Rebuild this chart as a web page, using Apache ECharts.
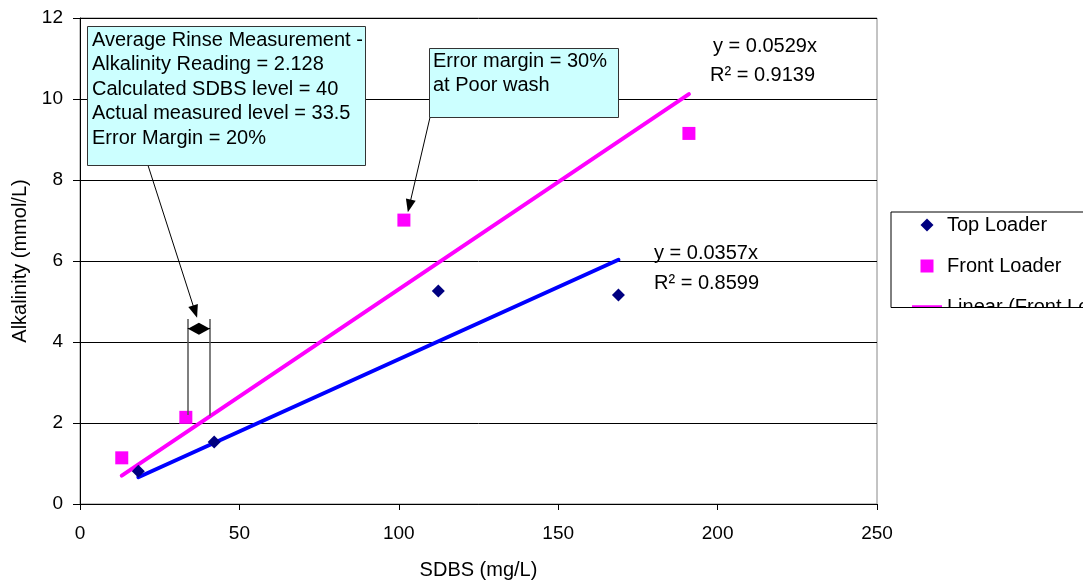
<!DOCTYPE html>
<html>
<head>
<meta charset="utf-8">
<script src="https://cdn.jsdelivr.net/npm/echarts@6/dist/echarts.min.js"></script>
<style>
html,body{margin:0;padding:0;background:#fff}
#chart{width:1083px;height:585px}
</style>
</head>
<body>
<div id="chart"></div>
<script>
var FONT = "'Liberation Sans', Arial, sans-serif";

// measured points
var topLoaderX = [18.3, 42.1, 112.4, 168.9];
var topLoaderY = [0.81, 1.53, 5.26, 5.16];
var frontLoaderX = [13.1, 33.2, 101.6, 191.0];
var frontLoaderY = [1.14, 2.14, 7.01, 9.15];

// trendline end points (y = 0.0357x and y = 0.0529x)
var topTrend = [[18.3, 0.66], [168.9, 6.03]];
var frontTrend = [[13.1, 0.70], [191.0, 10.12]];

// error bar between calculated (40) and measured (33.5) level
var errorBarX = [33.8, 40.8];
var errorBarTop = 4.57;
var errorBarBottom = [2.20, 2.18];
var errorArrowY = 4.33;

var legendNames = ['Top Loader', 'Front Loader', 'Linear (Front Loader)'];
var legendIcons = [
    'path://M5,0L10,5L5,10L0,5Z',
    'path://M0,0H10V10H0Z',
    'path://M0,0H30V3.5H0Z'
];
var box1Lines = ['Average Rinse Measurement -', 'Alkalinity Reading = 2.128', 'Calculated SDBS level = 40', 'Actual measured level = 33.5', 'Error Margin = 20%'];
var box2Lines = ['Error margin = 30%', 'at Poor wash'];

function pairs(xs, ys) {
    var out = [];
    for (var i = 0; i < xs.length; i++) out.push([xs[i], ys[i]]);
    return out;
}

var legendData = [];
for (var i = 0; i < legendNames.length; i++) {
    legendData.push({ name: legendNames[i], icon: legendIcons[i] });
}

var myChart = echarts.init(document.getElementById('chart'));

var option = {
    animation: false,
    textStyle: { fontFamily: FONT },
    grid: {
        left: 80, right: 206, top: 18, bottom: 81,
        show: true, borderColor: '#888', borderWidth: 1
    },
    legend: {
        orient: 'vertical',
        left: 891, top: 212,
        padding: [1, 10, 10, 21],
        itemWidth: 30, itemHeight: 13, itemGap: 17,
        symbolKeepAspect: true,
        borderColor: '#000', borderWidth: 1,
        textStyle: { fontSize: 20, color: '#000', fontFamily: FONT, lineHeight: 24 },
        data: legendData
    },
    xAxis: {
        type: 'value', min: 0, max: 250, interval: 50,
        name: 'SDBS (mg/L)', nameLocation: 'middle', nameGap: 56,
        nameTextStyle: { fontSize: 20, color: '#000', fontFamily: FONT },
        axisLine: { show: true, lineStyle: { color: '#000', width: 1 } },
        axisTick: { show: true, length: 6, lineStyle: { color: '#000' } },
        axisLabel: { fontSize: 19, color: '#000', margin: 20, fontFamily: FONT },
        splitLine: { show: false }
    },
    yAxis: {
        type: 'value', min: 0, max: 12, interval: 2,
        name: 'Alkalinity (mmol/L)', nameLocation: 'middle', nameGap: 48,
        nameTextStyle: { fontSize: 20, color: '#000', fontFamily: FONT },
        axisLine: { show: true, lineStyle: { color: '#000', width: 1 } },
        axisTick: { show: true, length: 7, lineStyle: { color: '#000' } },
        axisLabel: { fontSize: 19, color: '#000', margin: 17, fontFamily: FONT },
        splitLine: { show: true, lineStyle: { color: '#000', width: 1 } }
    },
    series: [
        {
            name: 'Linear (Top Loader)', type: 'line',
            data: topTrend, showSymbol: false, symbol: 'none', silent: true, z: 2,
            lineStyle: { color: '#0000ff', width: 4, cap: 'round' },
            itemStyle: { color: '#0000ff' }
        },
        {
            name: 'Linear (Front Loader)', type: 'line',
            data: frontTrend, showSymbol: false, symbol: 'none', silent: true, z: 2,
            lineStyle: { color: '#ff00ff', width: 4, cap: 'round' },
            itemStyle: { color: '#ff00ff' }
        },
        {
            name: 'Top Loader', type: 'scatter', symbol: 'diamond', symbolSize: 13, z: 3,
            itemStyle: { color: '#000080', opacity: 1 },
            data: pairs(topLoaderX, topLoaderY),
            markLine: {
                silent: true, animation: false,
                label: { show: false },
                symbol: 'none',
                lineStyle: { color: '#000', width: 1, type: 'solid' },
                data: [
                    [{ coord: [errorBarX[0], errorBarTop], lineStyle: { color: '#555', width: 1.5 } },
                     { coord: [errorBarX[0], errorBarBottom[0]] }],
                    [{ coord: [errorBarX[1], errorBarTop], lineStyle: { color: '#555', width: 1.5 } },
                     { coord: [errorBarX[1], errorBarBottom[1]] }],
                    [{ coord: [errorBarX[0], errorArrowY] }, { coord: [errorBarX[1], errorArrowY] }],
                    [{ coord: [21.3, 8.37] },
                     { coord: [36.1, 4.75], symbol: 'triangle', symbolSize: [10, 13] }],
                    [{ coord: [109.8, 9.55] },
                     { coord: [103.3, 7.36], symbol: 'triangle', symbolSize: [10, 13] }]
                ]
            },
            markPoint: {
                silent: true, animation: false,
                label: { show: false },
                data: [{ coord: [37.3, errorArrowY], symbol: 'diamond', symbolSize: [22, 12], itemStyle: { color: '#000' } }]
            }
        },
        {
            name: 'Front Loader', type: 'scatter', symbol: 'rect', symbolSize: 13, z: 3,
            itemStyle: { color: '#ff00ff', opacity: 1 },
            data: pairs(frontLoaderX, frontLoaderY)
        }
    ],
    graphic: [
        { type: 'rect', z: 50, shape: { x: 87.5, y: 26.5, width: 278, height: 139 },
          style: { fill: '#ccffff', stroke: '#333', lineWidth: 1 } },
        { type: 'text', z: 51, x: 92, y: 27.7,
          style: { text: box1Lines.join('\n'), font: '20px ' + FONT, fill: '#000', lineHeight: 24.6, verticalAlign: 'top' } },
        { type: 'rect', z: 50, shape: { x: 429.5, y: 48.5, width: 189, height: 69 },
          style: { fill: '#ccffff', stroke: '#333', lineWidth: 1 } },
        { type: 'text', z: 51, x: 433, y: 49.7,
          style: { text: box2Lines.join('\n'), font: '20px ' + FONT, fill: '#000', lineHeight: 24, verticalAlign: 'top' } },
        { type: 'text', z: 51, x: 713, y: 46.7,
          style: { text: 'y = 0.0529x', font: '20px ' + FONT, fill: '#000', verticalAlign: 'middle' } },
        { type: 'text', z: 51, x: 710, y: 75,
          style: { text: 'R\u00b2 = 0.9139', font: '20px ' + FONT, fill: '#000', verticalAlign: 'middle' } },
        { type: 'text', z: 51, x: 654, y: 253,
          style: { text: 'y = 0.0357x', font: '20px ' + FONT, fill: '#000', verticalAlign: 'middle' } },
        { type: 'text', z: 51, x: 654, y: 283,
          style: { text: 'R\u00b2 = 0.8599', font: '20px ' + FONT, fill: '#000', verticalAlign: 'middle' } },
        // legend box is cut off by the chart edge
        { type: 'rect', z: 100, shape: { x: 884, y: 307.5, width: 199, height: 45 },
          style: { fill: '#fff' } },
        { type: 'line', z: 101, shape: { x1: 891, y1: 307.5, x2: 1083, y2: 307.5 },
          style: { stroke: '#000', lineWidth: 1 } }
    ]
};

myChart.setOption(option);
</script>
</body>
</html>
